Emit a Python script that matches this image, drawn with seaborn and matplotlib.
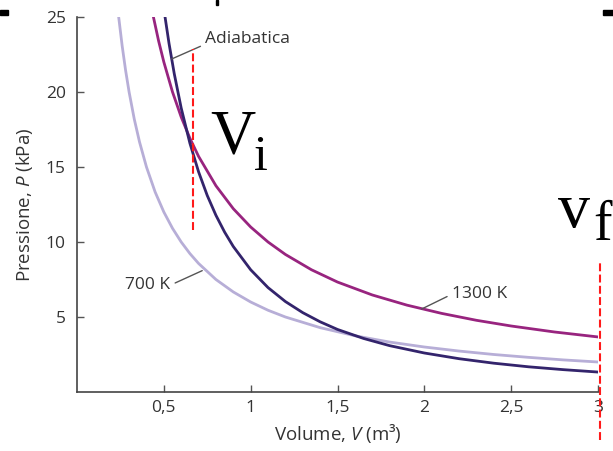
import matplotlib
matplotlib.use("Agg")
import matplotlib.pyplot as plt
import seaborn as sns
import pandas as pd
from matplotlib.patches import Rectangle

# ---- data ----
v_700 = [0.24, 0.26, 0.28, 0.30, 0.33, 0.36, 0.40, 0.45, 0.50, 0.55, 0.60, 0.65, 0.70,
         0.80, 0.90, 1.00, 1.10, 1.20, 1.40, 1.60, 1.80, 2.00, 2.20, 2.40, 2.60, 2.80, 3.00]
p_700 = [25.0, 23.08, 21.43, 20.0, 18.18, 16.67, 15.0, 13.33, 12.0, 10.91, 10.0, 9.23, 8.57,
         7.5, 6.67, 6.0, 5.45, 5.0, 4.29, 3.75, 3.33, 3.0, 2.73, 2.5, 2.31, 2.14, 2.0]

v_1300 = [0.44, 0.47, 0.50, 0.55, 0.60, 0.65, 0.70, 0.80, 0.90, 1.00, 1.10, 1.20, 1.35,
          1.50, 1.70, 1.90, 2.10, 2.30, 2.50, 2.75, 3.00]
p_1300 = [25.0, 23.40, 22.0, 20.0, 18.33, 16.92, 15.71, 13.75, 12.22, 11.0, 10.0, 9.17, 8.15,
          7.33, 6.47, 5.79, 5.24, 4.78, 4.40, 4.0, 3.67]

v_adi = [0.507, 0.53, 0.56, 0.60, 0.65, 0.70, 0.75, 0.80, 0.85, 0.90, 1.00, 1.10, 1.20,
         1.30, 1.40, 1.50, 1.65, 1.80, 2.00, 2.20, 2.40, 2.60, 2.80, 3.00]
p_adi = [25.0, 23.23, 21.22, 18.93, 16.59, 14.68, 13.10, 11.78, 10.66, 9.70, 8.15, 6.96, 6.03,
         5.29, 4.68, 4.17, 3.57, 3.09, 2.60, 2.22, 1.92, 1.68, 1.49, 1.33]

x_ticks = [0.5, 1, 1.5, 2, 2.5, 3]
x_tick_labels = ["0,5", "1", "1,5", "2", "2,5", "3"]
y_ticks = [5, 10, 15, 20, 25]
y_tick_labels = ["5", "10", "15", "20", "25"]

marker_v = [0.666, 3.01]        # V_i, V_f dashed lines
marker_top = [22.9, 8.8]
marker_bottom = [10.8, -3.2]

# ---- style ----
sns.set_style("ticks")
plt.rcParams["font.family"] = ["Open Sans", "DejaVu Sans"]
plt.rcParams["mathtext.fontset"] = "custom"
plt.rcParams["mathtext.it"] = "Open Sans:italic"
plt.rcParams["mathtext.rm"] = "Open Sans"

c_light = "#b7aed7"
c_mag = "#98247f"
c_dark = "#33246c"
txt_c = "#333333"
fs = 12.5
fs_lab = 13.5

fig = plt.figure(figsize=(6.13, 4.51), dpi=100)
ax = fig.add_axes([77 / 613, 59 / 451, (598 - 77) / 613, (392 - 17) / 451])

df_700 = pd.DataFrame({"V": v_700, "P": p_700})
df_1300 = pd.DataFrame({"V": v_1300, "P": p_1300})
df_adi = pd.DataFrame({"V": v_adi, "P": p_adi})

sns.lineplot(data=df_700, x="V", y="P", color=c_light, lw=2.0, ax=ax)
sns.lineplot(data=df_1300, x="V", y="P", color=c_mag, lw=2.0, ax=ax)
sns.lineplot(data=df_adi, x="V", y="P", color=c_dark, lw=2.0, ax=ax)

ax.set_xlim(0, 3)
ax.set_ylim(0, 25)
ax.set_xticks(x_ticks)
ax.set_xticklabels(x_tick_labels)
ax.set_yticks(y_ticks)
ax.set_yticklabels(y_tick_labels)
ax.tick_params(direction="in", length=5, width=1, colors="#555555",
               labelcolor=txt_c, labelsize=fs)
ax.tick_params(axis="x", pad=6)
ax.tick_params(axis="y", pad=8)
for s in ["top", "right"]:
    ax.spines[s].set_visible(False)
for s in ["left", "bottom"]:
    ax.spines[s].set_color("#444444")
    ax.spines[s].set_linewidth(1.2)

ax.set_xlabel("Volume, $V$ (m³)", fontsize=fs_lab, color=txt_c, labelpad=4)
ax.set_ylabel("Pressione, $P$ (kPa)", fontsize=fs_lab, color=txt_c, labelpad=8)

# annotations
lead = dict(arrowstyle="-", color="#555555", lw=1.0, shrinkA=1, shrinkB=0)
ax.annotate("Adiabatica", xy=(0.545, 22.2), xytext=(0.737, 23.5), fontsize=fs,
            color=txt_c, ha="left", va="center",
            arrowprops=dict(lead, relpos=(0, 0.2)))
ax.annotate("700 K", xy=(0.721, 8.09), xytext=(0.539, 7.13), fontsize=fs,
            color=txt_c, ha="right", va="center",
            arrowprops=dict(lead, relpos=(1, 0.5)))
ax.annotate("1300 K", xy=(1.984, 5.53), xytext=(2.157, 6.51), fontsize=fs,
            color=txt_c, ha="left", va="center",
            arrowprops=dict(lead, relpos=(0, 0.5)))

# red dashed markers
for v, t, b in zip(marker_v, marker_top, marker_bottom):
    ax.plot([v, v], [b, t], color="#ff1a1a", lw=1.5, dashes=(3.8, 1.6),
            clip_on=False, zorder=5)

# big serif labels
W, H = 613, 451
serif = "Liberation Serif"
fig.text(210 / W, 1 - 153 / H, "V", fontsize=45, family=serif, color="black",
         ha="left", va="baseline")
fig.text(254 / W, 1 - 170 / H, "i", fontsize=36, family=serif, color="black",
         ha="left", va="baseline")
fig.text(558 / W, 1 - 227 / H, "v", fontsize=46, family=serif, color="black",
         ha="left", va="baseline")
fig.text(593 / W, 1 - 240 / H, "f", fontsize=40, family=serif, color="black",
         ha="left", va="baseline")

# black crop artifacts at the top
for (x0, y0, w, h) in [(0, 10, 8, 5), (603, 10, 10, 5), (216, 0, 2, 5)]:
    fig.patches.append(Rectangle((x0 / W, 1 - (y0 + h) / H), w / W, h / H,
                                 transform=fig.transFigure, color="black"))

fig.savefig("out.png", dpi=100)
